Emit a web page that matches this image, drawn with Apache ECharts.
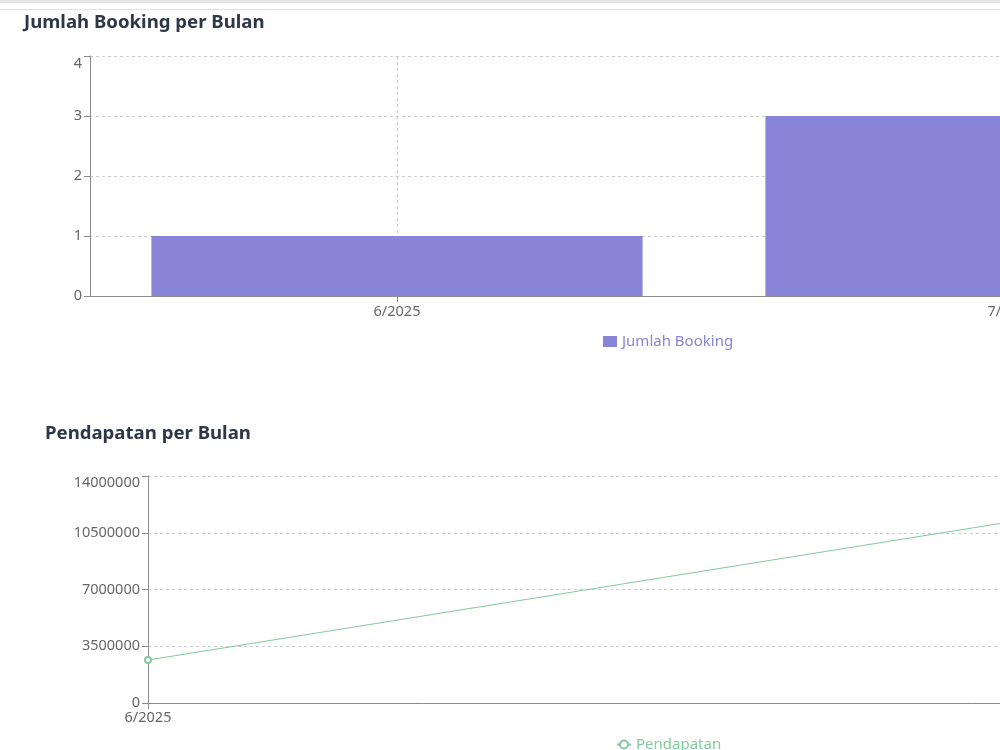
<!DOCTYPE html>
<html>
<head>
<meta charset="utf-8">
<script src="https://cdn.jsdelivr.net/npm/echarts@6/dist/echarts.min.js"></script>
<style>
html,body{margin:0;padding:0;width:1000px;height:750px;overflow:hidden;background:#fff;}
#wrap{width:1000px;height:750px;overflow:hidden;position:relative;}
#chart{width:1400px;height:750px;position:absolute;left:0;top:0;}
</style>
</head>
<body>
<div id="wrap"><div id="chart"></div></div>
<script>
// ---- data ----
const bookingMonths = ['6/2025', '7/2025'];
const bookingCounts = [1, 3];
const bookingTicks = [0, 1, 2, 3, 4];

const revenueMonths = ['6/2025', '7/2025'];
const revenueValues = [2650000, 13500000];
const revenueTicks = [0, 3500000, 7000000, 10500000, 14000000];

const titles = ['Jumlah Booking per Bulan', 'Pendapatan per Bulan'];
const seriesNames = ['Jumlah Booking', 'Pendapatan'];

// ---- styles ----
const FONT = '"Noto Sans", "Open Sans", sans-serif';
const axisColor = '#8a8a8a';
const labelColor = '#666';
const gridColor = '#ccc';
const barColor = '#8884d8';
const lineColor = '#82ca9d';
const LABEL_SIZE = 14.5;

function yAxisCfg(gridIndex, ticks, shift) {
  const maxV = ticks[ticks.length - 1];
  return {
    type: 'value', gridIndex: gridIndex,
    min: ticks[0], max: maxV, interval: ticks[1] - ticks[0],
    axisLine: { show: true, lineStyle: { color: axisColor, width: 1 } },
    axisTick: { show: true, length: 6, lineStyle: { color: axisColor } },
    splitLine: { show: true, lineStyle: { color: gridColor, type: [3, 3] } },
    axisLabel: {
      color: labelColor, fontSize: LABEL_SIZE, fontFamily: FONT, margin: 8,
      formatter: function (v) { return v === maxV ? '{t|' + v + '}' : String(v); },
      rich: { t: { color: labelColor, fontSize: LABEL_SIZE, fontFamily: FONT, padding: [shift * 2, 0, 0, 0] } }
    }
  };
}

const chart = echarts.init(document.getElementById('chart'), null, { renderer: 'canvas' });
chart.setOption({
  backgroundColor: '#fff',
  animation: false,
  graphic: [
    { type: 'rect', shape: { x: 0, y: 0, width: 1400, height: 3 }, style: { fill: '#e6e6e6' }, silent: true },
    { type: 'rect', shape: { x: 0, y: 9, width: 1400, height: 1 }, style: { fill: '#e2e2e2' }, silent: true }
  ],
  title: [
    { text: titles[0], left: 24, top: 13, padding: 0,
      textStyle: { fontSize: 18.6, fontWeight: 'bold', color: '#2d3748', fontFamily: FONT } },
    { text: titles[1], left: 45, top: 424, padding: 0,
      textStyle: { fontSize: 18.6, fontWeight: 'bold', color: '#2d3748', fontFamily: FONT } }
  ],
  legend: [
    { data: [seriesNames[0]], left: 603, top: 334, padding: 0, icon: 'rect',
      itemWidth: 14, itemHeight: 11,
      textStyle: { color: barColor, fontSize: 15, fontFamily: FONT } },
    { data: [seriesNames[1]], left: 616, top: 737, padding: 0,
      itemWidth: 14, itemHeight: 10,
      textStyle: { color: lineColor, fontSize: 15, fontFamily: FONT } }
  ],
  grid: [
    { left: 90, top: 56, width: 1228, height: 240 },
    { left: 148, top: 476, width: 1098, height: 227 }
  ],
  xAxis: [
    { type: 'category', gridIndex: 0, data: bookingMonths, boundaryGap: true,
      axisLine: { show: true, lineStyle: { color: axisColor } },
      axisTick: { show: true, length: 6, alignWithLabel: true, lineStyle: { color: axisColor } },
      splitLine: { show: true, alignWithLabel: true, lineStyle: { color: gridColor, type: [3, 3] } },
      axisLabel: { color: labelColor, fontSize: LABEL_SIZE, fontFamily: FONT, margin: 8 } },
    { type: 'category', gridIndex: 1, data: revenueMonths, boundaryGap: false,
      axisLine: { show: true, lineStyle: { color: axisColor } },
      axisTick: { show: true, length: 6, lineStyle: { color: axisColor } },
      splitLine: { show: false },
      axisLabel: { color: labelColor, fontSize: LABEL_SIZE, fontFamily: FONT, margin: 7 } }
  ],
  yAxis: [
    yAxisCfg(0, bookingTicks, 8),
    yAxisCfg(1, revenueTicks, 7)
  ],
  series: [
    { name: seriesNames[0], type: 'bar', xAxisIndex: 0, yAxisIndex: 0,
      data: bookingCounts, barCategoryGap: '20%',
      itemStyle: { color: barColor } },
    { name: seriesNames[1], type: 'line', xAxisIndex: 1, yAxisIndex: 1,
      data: revenueValues, symbol: 'emptyCircle', symbolSize: 6, showSymbol: true,
      lineStyle: { color: lineColor, width: 1 },
      itemStyle: { color: lineColor, borderColor: lineColor, borderWidth: 1 } }
  ]
});
</script>
</body>
</html>
